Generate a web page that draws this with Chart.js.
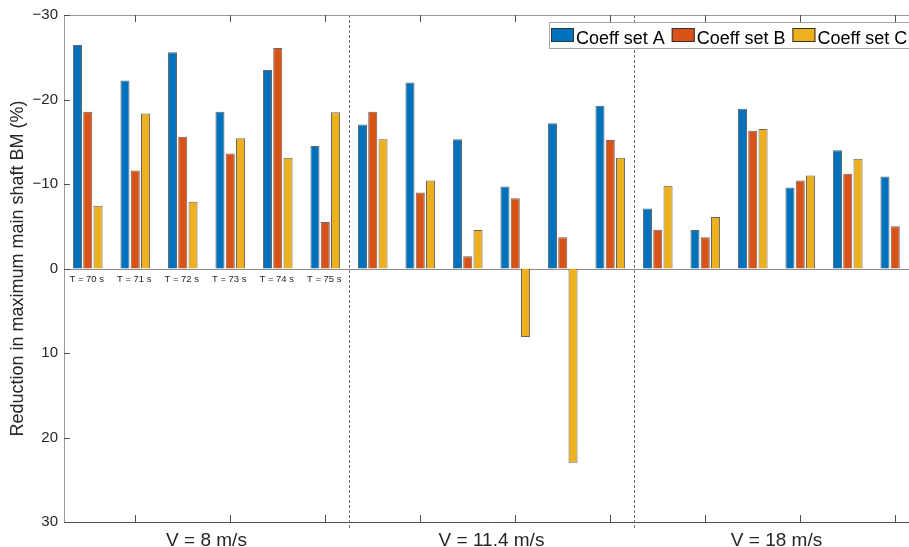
<!DOCTYPE html>
<html>
<head>
<meta charset="utf-8">
<script src="https://cdn.jsdelivr.net/npm/chart.js@4.4.1/dist/chart.umd.min.js"></script>
<style>
  html, body { margin: 0; padding: 0; background: #fff; overflow: hidden; }
  #wrap { position: relative; width: 925px; height: 547px; }
</style>
</head>
<body>
<div id="wrap"><canvas id="c" width="925" height="547"></canvas></div>
<script>
// ---- data ----
const timeLabels = ['T = 70 s', 'T = 71 s', 'T = 72 s', 'T = 73 s', 'T = 74 s', 'T = 75 s'];
const windSpeeds = ['V = 8 m/s', 'V = 11.4 m/s', 'V = 18 m/s'];
const seriesNames = ['Coeff set A', 'Coeff set B', 'Coeff set C'];
const coeffA = [-26.45, -22.24, -25.6, -18.55, -23.5, -14.5,
                -17.05, -22.0, -15.3, -9.7, -17.2, -19.25,
                -7.1, -4.55, -18.9, -9.6, -14.0, -10.9];
const coeffB = [-18.55, -11.6, -15.6, -13.6, -26.1, -5.5,
                -18.55, -9.0, -1.45, -8.3, -3.7, -15.2,
                -4.6, -3.7, -16.3, -10.4, -11.2, -5.0];
const coeffC = [-7.43, -18.35, -7.9, -15.4, -13.1, -18.5,
                -15.3, -10.4, -4.55, 8.1, 23.0, -13.1,
                -9.8, -6.1, -16.5, -11.0, -13.0, null];
const yTicks = [-30, -20, -10, 0, 10, 20, 30];
const colors = ['#0072BD', '#D95319', '#EDB120'];

const categories = [];
windSpeeds.forEach(v => timeLabels.forEach(t => categories.push(v + ' | ' + t)));

const FONT = '"Liberation Sans", Arial, Helvetica, sans-serif';

const decor = {
  id: 'decor',
  beforeDatasetsDraw(chart) {
    const {ctx, chartArea: a, scales: {y}} = chart;
    ctx.save();
    ctx.strokeStyle = '#8c8c8c';
    ctx.lineWidth = 1;
    const y0 = Math.round(y.getPixelForValue(0)) + 0.5;
    ctx.beginPath(); ctx.moveTo(a.left, y0); ctx.lineTo(a.right, y0); ctx.stroke();
    ctx.restore();
  },
  afterDatasetsDraw(chart) {
    const {ctx, chartArea: a, scales: {x, y}} = chart;
    ctx.save();
    const n = categories.length;
    const step = (x.getPixelForValue(1) - x.getPixelForValue(0));
    // group separators (dashed)
    ctx.strokeStyle = '#6e6e6e';
    ctx.lineWidth = 1;
    ctx.setLineDash([3, 2]);
    for (let g = 1; g < windSpeeds.length; g++) {
      const xi = Math.round(x.getPixelForValue(g * timeLabels.length) - step / 2) + 0.5;
      ctx.beginPath(); ctx.moveTo(xi, a.top); ctx.lineTo(xi, a.bottom + 6); ctx.stroke();
    }
    ctx.setLineDash([]);
    // axes box
    ctx.strokeStyle = '#9a9a9a';
    ctx.beginPath();
    ctx.moveTo(a.left + 0.5, a.bottom); ctx.lineTo(a.left + 0.5, a.top + 0.5); ctx.lineTo(a.right, a.top + 0.5);
    ctx.stroke();
    ctx.strokeStyle = '#4d4d4d';
    ctx.beginPath(); ctx.moveTo(a.left, a.bottom + 0.5); ctx.lineTo(a.right, a.bottom + 0.5); ctx.stroke();
    // inward ticks on top / bottom
    ctx.strokeStyle = '#4d4d4d';
    for (let i = 1; i < n; i += 2) {
      const xi = Math.round(x.getPixelForValue(i)) + 0.5;
      ctx.beginPath(); ctx.moveTo(xi, a.top); ctx.lineTo(xi, a.top + 7); ctx.stroke();
      ctx.beginPath(); ctx.moveTo(xi, a.bottom); ctx.lineTo(xi, a.bottom - 7); ctx.stroke();
    }
    // inward ticks on left
    yTicks.forEach(v => {
      const yi = Math.round(y.getPixelForValue(v)) + 0.5;
      ctx.beginPath(); ctx.moveTo(a.left, yi); ctx.lineTo(a.left + 6, yi); ctx.stroke();
    });
    // time labels under the first group
    ctx.fillStyle = '#262626';
    ctx.font = '9.5px ' + FONT;
    ctx.textAlign = 'center';
    ctx.textBaseline = 'middle';
    const yl = y.getPixelForValue(0) + 11;
    timeLabels.forEach((t, i) => {
      ctx.fillText(t, x.getPixelForValue(i) - 1, yl);
    });
    // group labels
    ctx.font = '19px ' + FONT;
    ctx.textBaseline = 'alphabetic';
    windSpeeds.forEach((v, g) => {
      const cx = x.getPixelForValue(g * timeLabels.length) - step / 2 + step * timeLabels.length / 2;
      ctx.fillText(v, cx, a.bottom + 24);
    });
    ctx.restore();
  },
  afterDraw(chart) {
    const {ctx} = chart;
    ctx.save();
    ctx.fillStyle = '#fff';
    ctx.fillRect(549, 22, 400, 26);
    ctx.strokeStyle = '#a6a6a6';
    ctx.lineWidth = 1;
    ctx.strokeRect(549.5, 22.5, 400, 26);
    ctx.font = '18px ' + FONT;
    ctx.textAlign = 'left';
    ctx.textBaseline = 'alphabetic';
    let xs = 551;
    seriesNames.forEach((s, i) => {
      ctx.fillStyle = colors[i];
      ctx.fillRect(xs, 28, 23, 14);
      ctx.strokeStyle = '#333';
      ctx.strokeRect(xs + 0.5, 28.5, 22, 13);
      ctx.fillStyle = '#000';
      ctx.fillText(s, xs + 25, 44);
      xs += 25 + ctx.measureText(s).width + 7;
    });
    ctx.restore();
  }
};

new Chart(document.getElementById('c'), {
  type: 'bar',
  data: {
    labels: categories,
    datasets: [coeffA, coeffB, coeffC].map((d, i) => ({
      label: seriesNames[i],
      data: d,
      backgroundColor: colors[i],
      borderColor: 'rgba(50,50,50,0.75)',
      borderWidth: 1,
      categoryPercentage: 0.65,
      barPercentage: 0.88
    }))
  },
  options: {
    responsive: false,
    animation: false,
    devicePixelRatio: 1,
    layout: { padding: { left: 0, right: 6, top: 15, bottom: 25 } },
    plugins: { legend: { display: false }, tooltip: { enabled: false } },
    scales: {
      x: { display: false, offset: true },
      y: {
        min: -30, max: 30, reverse: true,
        afterFit(s) { s.width = 64; },
        afterBuildTicks(s) { s.ticks = yTicks.map(v => ({ value: v })); },
        grid: { display: false, drawTicks: false },
        border: { display: false },
        ticks: {
          padding: 6,
          color: '#262626',
          font: { family: FONT, size: 15 },
          callback: v => (v < 0 ? '\u2212' + Math.abs(v) : String(v))
        },
        title: {
          display: true,
          text: 'Reduction in maximum main shaft BM (%)',
          color: '#262626',
          font: { family: FONT, size: 18 },
          padding: { top: 7, bottom: 0 }
        }
      }
    }
  },
  plugins: [decor]
});
</script>
</body>
</html>
